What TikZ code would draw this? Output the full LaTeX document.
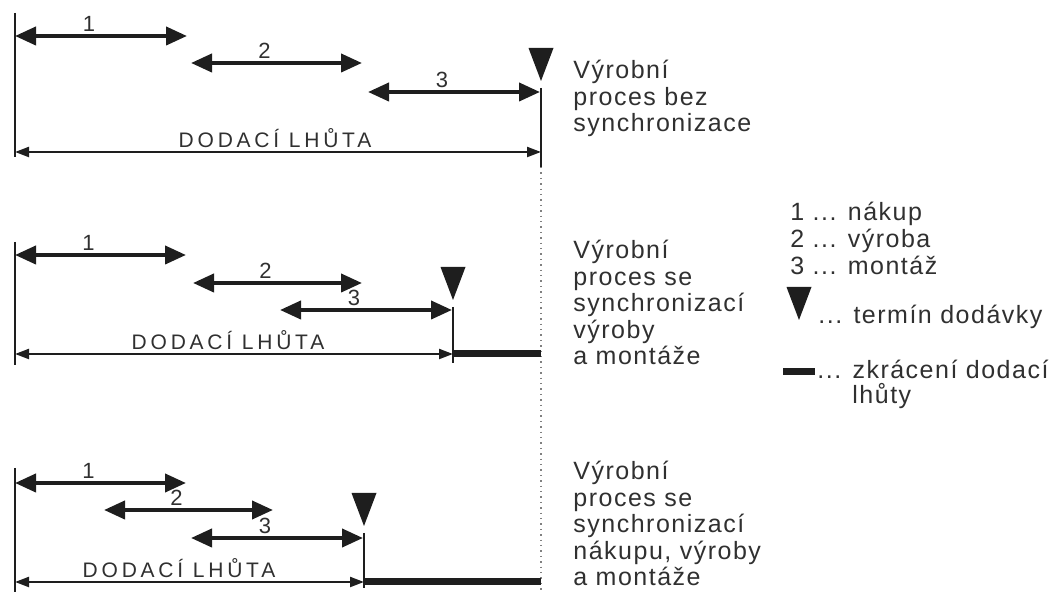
\documentclass[tikz,border=0pt]{standalone}
\usepackage{fontspec}
\setmainfont{Liberation Sans}
\newfontfamily\popisfont[LetterSpace=6]{Liberation Sans}
\newfontfamily\lhutafont[LetterSpace=18]{Liberation Sans}
\usetikzlibrary{arrows.meta}
\definecolor{ink}{HTML}{1E1E1E}
\definecolor{sedy}{HTML}{303030}

\begin{document}
\begin{tikzpicture}[x=0.5pt, y=-0.5pt, line join=round,
  faze/.style={draw=ink, line width=2pt,
    {Triangle[length=10.5pt,width=9pt]}-{Triangle[length=10.5pt,width=9pt]}},
  lhuta/.style={draw=ink, line width=1.1pt,
    {Triangle[length=7pt,width=5pt]}-{Triangle[length=7pt,width=5pt]}},
  mez/.style={draw=ink, line width=1.2pt},
  zkraceni/.style={draw=ink, line width=3.5pt},
  popis/.style={text=sedy, font=\popisfont\fontsize{12.5}{13.25}\selectfont,
    align=left, inner sep=0pt},
  cislo/.style={text=sedy, font=\fontsize{11}{12}\selectfont, inner sep=0pt},
  nadpis/.style={text=sedy, font=\lhutafont\fontsize{10.5}{12}\selectfont, inner sep=0pt}]
  \useasboundingbox (0,0) rectangle (1057,598);

  % svisle hranice (zacatek a termin)
  \foreach \x/\ya/\yb in {15/13/157, 15/242/365, 15/468/592,
      541/88/167, 453/307/363, 364/533/588}
    {\draw[mez] (\x,\ya) -- (\x,\yb);}
  \draw[gray, line width=0.7pt, dotted] (541,167) -- (541,592);

  % faze 1, 2, 3
  \foreach \xa/\xb/\y/\n in {15/187/36/1, 191/362/63/2, 368/540/92/3,
      15/186/255/1, 193/362/283/2, 280/452/310/3,
      15/186/483/1, 104/273/510/2, 191/363/538/3}
    {\draw[faze] (\xa,\y) -- (\xb,\y);
     \node[cislo] (f\n) at ({(\xa+\xb)/2-12},\y-12) {\n};}

  % dodaci lhuta
  \foreach \xb/\y/\tx [count=\i] in {541/152/275, 453/354/228, 364/582/179}
    {\draw[lhuta] (15,\y) -- (\xb,\y);
     \node[nadpis] (lhuta\i) at (\tx,\y-14) {DODACÍ LHŮTA};}

  % zkraceni
  \draw[zkraceni] (453,354) -- (541,354);
  \draw[zkraceni] (364,582) -- (541,582);

  % terminy dodavky
  \foreach \x/\y in {541/48, 453/267, 364/493, 799/287}
    {\fill[ink] (\x-12.5,\y) -- (\x+12.5,\y) -- (\x,\y+33) -- cycle;}

  % popisy procesu
  \node[popis, anchor=north west] (bez) at (573,60)
    {Výrobní\\proces bez\\synchronizace};
  \node[popis, anchor=north west] (vm) at (573,240)
    {Výrobní\\proces se\\synchronizací\\výroby\\a montáže};
  \node[popis, anchor=north west] (nvm) at (573,461)
    {Výrobní\\proces se\\synchronizací\\nákupu, výroby\\a montáže};

  % legenda
  \node[popis, anchor=base west] (nakup) at (790,221) {1 ... nákup};
  \node[popis, anchor=base west] (vyroba) at (790,248) {2 ... výroba};
  \node[popis, anchor=base west] (montaz) at (790,275) {3 ... montáž};
  \node[popis, anchor=base west] (termin) at (818,324) {... termín dodávky};
  \draw[zkraceni] (783,372) -- (815,372);
  \node[popis, anchor=base west] (zkr) at (817,379) {... zkrácení dodací};
  \node[popis, anchor=base west] (zkr2) at (852,404) {lhůty};
\end{tikzpicture}
\end{document}
